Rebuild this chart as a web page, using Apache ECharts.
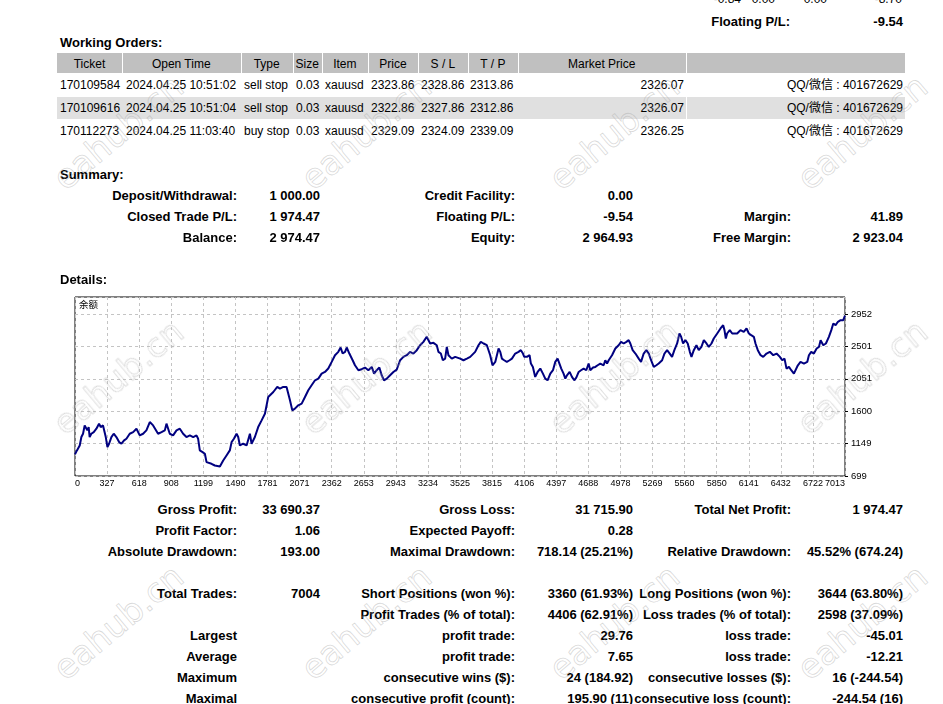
<!DOCTYPE html>
<html><head><meta charset="utf-8">
<script src="https://cdn.jsdelivr.net/npm/echarts@6/dist/echarts.min.js"></script>
<style>
html,body{margin:0;padding:0;background:#fff;width:943px;height:704px;overflow:hidden;}
#page{position:relative;width:943px;height:704px;font-family:"Liberation Sans",Arial,"Noto Sans CJK SC",sans-serif;color:#000;}
.t{position:absolute;white-space:nowrap;line-height:1;}
.b{font-weight:bold;font-size:13px;}
.n{font-size:12px;}
.bg{position:absolute;}
.wm{position:absolute;white-space:nowrap;font-family:"DejaVu Sans",sans-serif;font-size:34px;color:transparent;-webkit-text-stroke:0.8px rgba(170,170,170,0.45);transform:translate(-50%,-50%) rotate(-40deg);pointer-events:none;z-index:20;line-height:1;}
#chart{position:absolute;left:0;top:285px;width:943px;height:215px;}
</style></head>
<body><div id="page"><div id="chart"></div></div>
<script>
// ---------- chart data ----------
const tradeNo = [36,54,79,94,109,124,139,148,160,169,184,206,230,254,269,290,305,315,330,345,366,387,411,436,457,481,502,532,563,593,608,623,653,683,714,744,759,789,820,850,865,880,895,925,956,986,1016,1046,1077,1107,1137,1152,1167,1192,1213,1228,1243,1273,1303,1349,1379,1409,1439,1455,1476,1500,1515,1530,1560,1591,1621,1636,1666,1696,1727,1757,
1787,1833,1869,1893,1923,1953,1984,2005,2029,2059,2090,2120,2150,2180,2211,2241,2271,2301,2331,2362,2392,2422,2443,2461,2483,2498,2522,2552,2573,2604,2634,2664,2694,2725,2746,2770,2794,2815,2836,2861,2891,2921,2951,2982,3012,3042,3072,3102,3133,3163,3193,3223,3254,3284,3314,3329,3351,3369,3390,3405,3420,3450,3481,
3496,3526,3556,3587,3617,3632,3662,3692,3713,3738,3768,3798,3819,3844,3859,3874,3889,3904,3925,3949,3974,3995,4025,4055,4076,4095,4107,4131,4155,4167,4185,4206,4228,4252,4276,4297,4318,4343,4367,4388,4409,4427,4442,4463,4479,4494,4518,4539,4560,4578,4600,4621,4645,4669,4690,4705,4730,4751,4772,
4796,4811,4826,4841,4857,4872,4902,4932,4962,4984,5008,5032,5053,5068,5089,5114,5144,5165,5189,5213,5235,5256,5280,5304,5325,5356,5377,5401,5425,5446,5467,5492,5513,5528,5546,5567,5588,5607,5622,5643,5667,5688,5712,5734,5758,5779,5803,5824,5855,5885,5909,5921,5933,5945,5969,5991,6006,6036,
6066,6096,6121,6142,6163,6187,6202,6223,6248,6272,6302,6332,6363,6393,6423,6444,6465,6483,6505,6526,6550,6565,6586,6610,6641,6671,6686,6707,6731,6756,6777,6792,6816,6840,6867,6889,6907,6928,6949,6973,6997,7013];
const balance = [1000,1055,1124,1241,1287,1403,1427,1334,1380,1241,1287,1310,1357,1427,1380,1403,1427,1241,1101,1148,1241,1287,1241,1171,1148,1194,1217,1287,1310,1357,1334,1264,1287,1334,1450,1403,1380,1287,1310,1334,1427,1450,1287,1264,1334,1357,1287,1241,1264,1241,1264,1217,1055,1031,1008,892,869,869,845,831,915,985,1055,1171,1217,1287,1241,1124,1148,1124,1287,1148,1241,1380,1473,1566,
1799,1868,1938,1915,1938,1938,1752,1613,1636,1683,1706,1799,1892,1962,2031,2054,2124,2147,2194,2287,2380,2427,2487,2403,2427,2487,2403,2310,2240,2171,2185,2208,2171,2217,2124,2171,2208,2101,2031,2054,2101,2147,2180,2310,2357,2380,2427,2403,2450,2519,2566,2636,2543,2552,2519,2427,2403,2310,2333,2496,2380,2333,2357,
2380,2333,2310,2333,2357,2333,2427,2519,2566,2543,2519,2380,2240,2287,2380,2473,2427,2333,2310,2287,2310,2333,2403,2427,2450,2403,2357,2357,2380,2264,2217,2078,2147,2194,2124,2054,2031,2124,2171,2287,2333,2310,2194,2124,2054,2101,2147,2078,2031,2068,2147,2171,2194,2171,2264,2171,2208,2217,2240,
2264,2287,2240,2310,2264,2310,2380,2473,2519,2566,2543,2566,2589,2543,2450,2403,2333,2287,2403,2450,2403,2310,2217,2240,2264,2310,2403,2450,2403,2357,2450,2543,2682,2636,2543,2589,2543,2427,2357,2450,2519,2450,2496,2589,2543,2496,2543,2612,2682,2752,2798,2729,2612,2682,2729,2682,2705,2682,
2729,2705,2752,2682,2659,2636,2543,2450,2380,2357,2403,2427,2380,2403,2357,2310,2333,2194,2217,2171,2124,2147,2240,2287,2264,2287,2380,2427,2403,2473,2496,2589,2519,2543,2636,2729,2822,2798,2845,2868,2868,2930];
const xTickLabels = ['0','327','618','908','1199','1490','1781','2071','2362','2653','2943','3234','3525','3815','4106','4397','4688','4978','5269','5560','5850','6141','6432','6722','7013'];
const yTickLabels = ['699','1149','1600','2051','2501','2952'];
const seriesName = '余额';

// ---------- axis scale settings ----------
const xMin = 36.2, xStep = 290.7, xMax = 7013;
const yMin = 699, yStep = 450.6, yMax = 3190;

const chart = echarts.init(document.getElementById('chart'), null, {renderer:'canvas'});
const fontFam = '"Liberation Sans", Arial, sans-serif';
chart.setOption({
  animation:false,
  backgroundColor:'#fff',
  grid:{left:75, right:98, top:12, bottom:24, show:true, borderColor:'#000', borderWidth:1, backgroundColor:'#fff'},
  graphic:[{type:'text', left:79, top:15, style:{text:seriesName, font:'9.5px "Noto Sans CJK SC", sans-serif', fill:'#000'}}],
  xAxis:{type:'value', min:xMin, max:xMax, interval:xStep,
    axisLine:{show:false}, axisTick:{show:false},
    splitLine:{show:true, lineStyle:{color:'#c4c4c4', type:[3,3], width:1}},
    axisLabel:{color:'#000', fontSize:9, fontFamily:fontFam, margin:3, alignMinLabel:'left', alignMaxLabel:'right',
      formatter:function(v){const i=Math.round((v-xMin)/xStep); return (Math.abs(v-(xMin+i*xStep))<1 && xTickLabels[i]!==undefined)?xTickLabels[i]:'';}}},
  yAxis:{type:'value', position:'right', min:yMin, max:yMax, interval:yStep,
    axisLine:{show:false}, axisTick:{show:true, length:3, lineStyle:{color:'#000'}},
    splitLine:{show:true, lineStyle:{color:'#c4c4c4', type:[3,3], width:1}},
    axisLabel:{color:'#000', fontSize:9.5, fontFamily:fontFam, margin:6, showMaxLabel:false,
      formatter:function(v){const i=Math.round((v-yMin)/yStep); return (Math.abs(v-(yMin+i*yStep))<1 && yTickLabels[i]!==undefined)?yTickLabels[i]:'';}}},
  series:[{type:'line', name:seriesName, data:tradeNo.map((t,i)=>[t,balance[i]]), showSymbol:false, symbol:'none',
    lineStyle:{color:'#000080', width:2}, itemStyle:{color:'#000080'}}]
});

// ---------- statement text ----------
const page = document.getElementById('page');
function T(s, x, y, align, cls){
  const d=document.createElement('div'); d.className='t '+cls; d.textContent=s;
  d.style.left=x+'px'; d.style.top=y+'px';
  d.style.transform = align==='r'?'translate(-100%,-50%)':(align==='c'?'translate(-50%,-50%)':'translate(0,-50%)');
  page.appendChild(d);
}
function R(x,y,w,h,c){const d=document.createElement('div');d.className='bg';d.style.cssText+=`left:${x}px;top:${y}px;width:${w}px;height:${h}px;background:${c};`;page.appendChild(d);}

// partially visible top row
const topRow = ['-0.84','0.00','0.00','-8.70'];
[741,775,827,902].forEach((x,i)=>T(topRow[i],x,-1,'r','n'));
T('Floating P/L:',790,21,'r','b'); T('-9.54',903,21,'r','b');

T('Working Orders:',60,42,'l','b');
const hdrB=[57,122,240.5,292.8,321.7,368,418,467.8,518,685.5,905];
const hdr=['Ticket','Open Time','Type','Size','Item','Price','S / L','T / P','Market Price',''];
R(57,53,848,20,'#c0c0c0');
R(57,97,848,22,'#e0e0e0');
hdrB.slice(1,-1).forEach(x=>R(x,53,1,20,'#fff'));
R(685.5,97,1,22,'#fff');
hdr.forEach((h,i)=>{ if(h) T(h,(hdrB[i]+hdrB[i+1])/2,63.5,'c','n'); });
const orders=[
 ['170109584','2024.04.25 10:51:02','sell stop','0.03','xauusd','2323.86','2328.86','2313.86','2326.07','QQ/微信 : 401672629'],
 ['170109616','2024.04.25 10:51:04','sell stop','0.03','xauusd','2322.86','2327.86','2312.86','2326.07','QQ/微信 : 401672629'],
 ['170112273','2024.04.25 11:03:40','buy stop','0.03','xauusd','2329.09','2324.09','2339.09','2326.25','QQ/微信 : 401672629']];
const colX=[60,126,244,296,325,371,421,470];
orders.forEach((r,ri)=>{const y=85+ri*23; colX.forEach((x,ci)=>T(r[ci],x,y,'l','n')); T(r[8],684,y,'r','n'); T(r[9],903,y,'r','n');});

T('Summary:',60,174,'l','b');
T('Details:',60,279,'l','b');
const colR=[237,320,515,633,791,903];
const stats=[
 [195,'Deposit/Withdrawal:','1 000.00','Credit Facility:','0.00','',''],
 [216,'Closed Trade P/L:','1 974.47','Floating P/L:','-9.54','Margin:','41.89'],
 [237,'Balance:','2 974.47','Equity:','2 964.93','Free Margin:','2 923.04'],
 [509,'Gross Profit:','33 690.37','Gross Loss:','31 715.90','Total Net Profit:','1 974.47'],
 [530,'Profit Factor:','1.06','Expected Payoff:','0.28','',''],
 [551,'Absolute Drawdown:','193.00','Maximal Drawdown:','718.14 (25.21%)','Relative Drawdown:','45.52% (674.24)'],
 [593,'Total Trades:','7004','Short Positions (won %):','3360 (61.93%)','Long Positions (won %):','3644 (63.80%)'],
 [614,'','','Profit Trades (% of total):','4406 (62.91%)','Loss trades (% of total):','2598 (37.09%)'],
 [635,'Largest','','profit trade:','29.76','loss trade:','-45.01'],
 [656,'Average','','profit trade:','7.65','loss trade:','-12.21'],
 [677,'Maximum','','consecutive wins ($):','24 (184.92)','consecutive losses ($):','16 (-244.54)'],
 [698,'Maximal','','consecutive profit (count):','195.90 (11)','consecutive loss (count):','-244.54 (16)']];
stats.forEach(r=>{for(let i=0;i<6;i++){ if(r[i+1]) T(r[i+1],colR[i],r[0],'r','b'); }});

// watermark
[[118,132],[366,132],[614,132],[862,132],[118,377],[366,377],[614,377],[862,377],[118,622],[366,622],[614,622],[862,622]].forEach(p=>{
  const d=document.createElement('div'); d.className='wm'; d.textContent='eahub.cn'; d.style.left=p[0]+'px'; d.style.top=p[1]+'px'; page.appendChild(d);});
</script>
</body></html>
